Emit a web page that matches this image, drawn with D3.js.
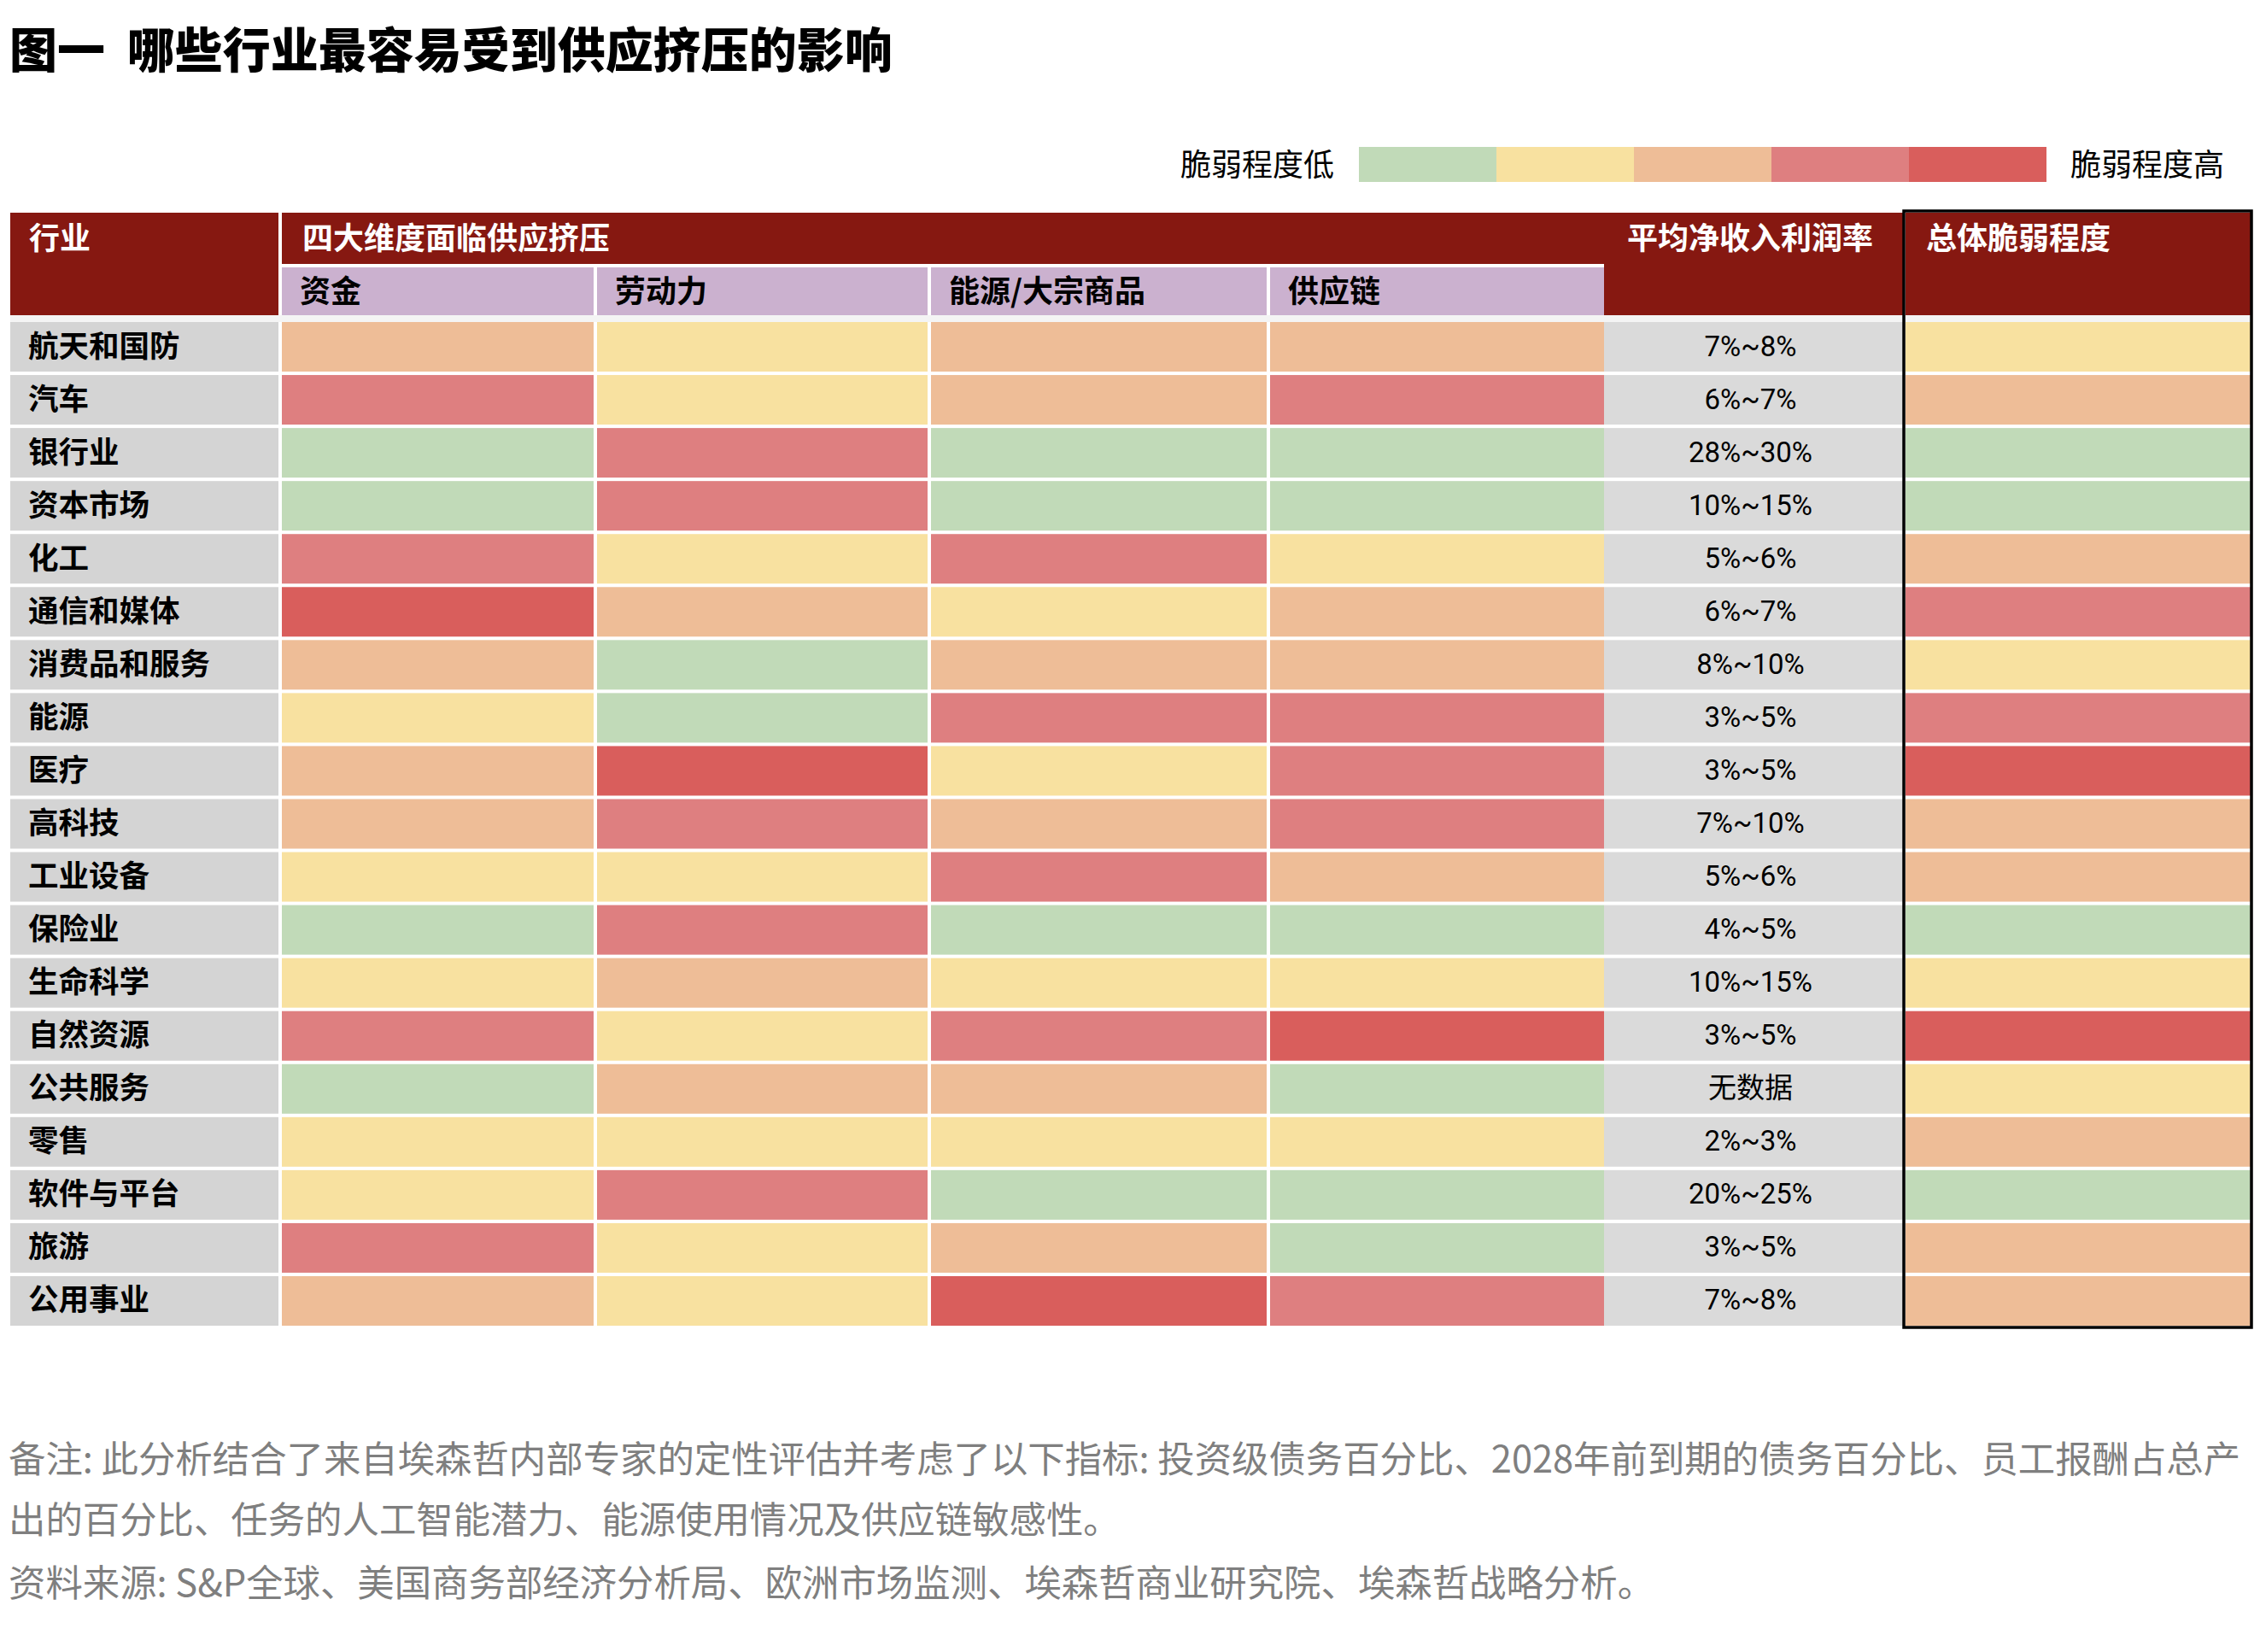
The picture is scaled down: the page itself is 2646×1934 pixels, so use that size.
<!DOCTYPE html>
<html lang="zh">

<head>
    <meta charset="UTF-8">
    <title>哪些行业最容易受到供应挤压的影响</title>
    <style>
        body {
            margin: 0;
            background: #fff;
        }

        text {
            font-family: "Noto Sans CJK SC", sans-serif;
        }

        .title {
            font-size: 56px;
            font-weight: 900;
            fill: #000;
            dominant-baseline: central;
        }

        .legend-label {
            font-size: 36px;
            fill: #000;
            dominant-baseline: central;
        }

        .head {
            fill: #861811;
        }

        .sub-head {
            fill: #cbb1cf;
        }

        .head-label {
            font-size: 36px;
            font-weight: 700;
            fill: #fff;
            dominant-baseline: central;
        }

        .sub-label {
            font-size: 36px;
            font-weight: 700;
            fill: #000;
            dominant-baseline: central;
        }

        .row-label {
            font-size: 35.5px;
            font-weight: 700;
            fill: #000;
            dominant-baseline: central;
        }

        .margin-label {
            font-family: Roboto, "Noto Sans CJK SC", sans-serif;
            font-size: 33px;
            fill: #000;
            text-anchor: middle;
            dominant-baseline: central;
        }

        .note {
            font-size: 43.4px;
            fill: #7f7f7f;
            dominant-baseline: central;
        }
    </style>
</head>

<body>
    <script src="https://d3js.org/d3.v7.min.js"></script>
    <script>
        // data
        const industries = ['航天和国防', '汽车', '银行业', '资本市场', '化工', '通信和媒体', '消费品和服务', '能源', '医疗',
            '高科技', '工业设备', '保险业', '生命科学', '自然资源', '公共服务', '零售', '软件与平台', '旅游', '公用事业'];
        const dimensions = ['资金', '劳动力', '能源/大宗商品', '供应链'];
        // vulnerability level 1 (low) .. 5 (high)
        const capital = [3, 4, 1, 1, 4, 5, 3, 2, 3, 3, 2, 1, 2, 4, 1, 2, 2, 4, 3];
        const labor = [2, 2, 4, 4, 2, 3, 1, 1, 5, 4, 2, 4, 3, 2, 3, 2, 4, 2, 2];
        const energy = [3, 3, 1, 1, 4, 2, 3, 4, 2, 3, 4, 1, 2, 4, 3, 2, 1, 3, 5];
        const supply = [3, 4, 1, 1, 2, 3, 3, 4, 4, 4, 3, 1, 2, 5, 1, 2, 1, 1, 4];
        const margins = ['7%~8%', '6%~7%', '28%~30%', '10%~15%', '5%~6%', '6%~7%', '8%~10%', '3%~5%', '3%~5%', '7%~10%',
            '5%~6%', '4%~5%', '10%~15%', '3%~5%', '无数据', '2%~3%', '20%~25%', '3%~5%', '7%~8%'];
        const overall = [2, 3, 1, 1, 3, 4, 2, 4, 5, 3, 3, 1, 2, 5, 2, 3, 1, 3, 3];
        const levels = [1, 2, 3, 4, 5];
        const legendLabels = ['脆弱程度低', '脆弱程度高'];
        const headers = ['行业', '四大维度面临供应挤压', '平均净收入利润率', '总体脆弱程度'];
        const title = '图一\u00a0\u00a0哪些行业最容易受到供应挤压的影响';
        const notes = [
            '备注: 此分析结合了来自埃森哲内部专家的定性评估并考虑了以下指标: 投资级债务百分比、2028年前到期的债务百分比、员工报酬占总产',
            '出的百分比、任务的人工智能潜力、能源使用情况及供应链敏感性。',
            '资料来源: S&P全球、美国商务部经济分析局、欧洲市场监测、埃森哲商业研究院、埃森哲战略分析。'
        ];

        const dimValues = [capital, labor, energy, supply];

        // layout
        const width = 2646;
        const height = 1934;
        const gap = 4;
        const headTop = 249;
        const headBottom = 369;
        const subTop = 313;
        const bodyTop = 377;
        const bodyBottom = 1552;
        const lift = 3; // central baseline sits a bit low for CJK glyphs

        const colLeft = d3.scaleOrdinal()
            .domain(['industry', ...dimensions, 'margin', 'overall'])
            .range([12, 330, 699, 1090, 1487, 1878, 2231]);
        const colRight = d3.scaleOrdinal()
            .domain(['industry', ...dimensions, 'margin', 'overall'])
            .range([326, 695, 1086, 1483, 1878, 2229, 2636]);
        const y = d3.scaleBand()
            .domain(industries)
            .range([bodyTop, bodyBottom])
            .paddingInner(0.065)
            .paddingOuter(0);
        const color = d3.scaleOrdinal()
            .domain(levels)
            .range(['#c1dab8', '#f8e1a0', '#eebd97', '#de7f80', '#d95e5c']);
        const legendX = d3.scaleBand()
            .domain(levels)
            .range([1591, 2396]);

        const svg = d3.select('body')
            .append('svg')
            .attr('width', width)
            .attr('height', height);

        // title
        svg.append('text')
            .attr('class', 'title')
            .attr('x', 11)
            .attr('y', 58 - 4)
            .text(title);

        // legend
        svg.selectAll('.legend-box')
            .data(levels)
            .enter().append('rect')
            .attr('class', 'legend-box')
            .attr('x', d => legendX(d))
            .attr('y', 172)
            .attr('width', legendX.bandwidth())
            .attr('height', 41)
            .attr('fill', d => color(d));

        svg.append('text')
            .attr('class', 'legend-label')
            .attr('x', 1562)
            .attr('y', 193 - lift)
            .style('text-anchor', 'end')
            .text(legendLabels[0]);

        svg.append('text')
            .attr('class', 'legend-label')
            .attr('x', 2424)
            .attr('y', 193 - lift)
            .text(legendLabels[1]);

        // header
        const head = svg.append('g');
        head.append('rect')
            .attr('class', 'head')
            .attr('x', colLeft('industry'))
            .attr('y', headTop)
            .attr('width', colRight('industry') - colLeft('industry'))
            .attr('height', headBottom - headTop);
        head.append('rect')
            .attr('class', 'head')
            .attr('x', colLeft(dimensions[0]))
            .attr('y', headTop)
            .attr('width', colRight('margin') - colLeft(dimensions[0]))
            .attr('height', subTop - gap - headTop);
        head.append('rect')
            .attr('class', 'head')
            .attr('x', colLeft('margin'))
            .attr('y', headTop)
            .attr('width', colRight('margin') - colLeft('margin'))
            .attr('height', headBottom - headTop);
        head.append('rect')
            .attr('class', 'head')
            .attr('x', colLeft('overall'))
            .attr('y', headTop)
            .attr('width', colRight('overall') - colLeft('overall'))
            .attr('height', headBottom - headTop);

        head.selectAll('.sub-head')
            .data(dimensions)
            .enter().append('rect')
            .attr('class', 'sub-head')
            .attr('x', d => colLeft(d))
            .attr('y', subTop)
            .attr('width', d => colRight(d) - colLeft(d))
            .attr('height', headBottom - subTop);

        head.selectAll('.sub-label')
            .data(dimensions)
            .enter().append('text')
            .attr('class', 'sub-label')
            .attr('x', d => colLeft(d) + 21)
            .attr('y', (subTop + headBottom) / 2 - lift)
            .text(d => d);

        const headLabelX = [colLeft('industry') + 22, colLeft(dimensions[0]) + 24, colLeft('margin') + 27, colLeft('overall') + 24];
        head.selectAll('.head-label')
            .data(headers)
            .enter().append('text')
            .attr('class', 'head-label')
            .attr('x', (d, i) => headLabelX[i])
            .attr('y', 279 - lift)
            .text(d => d);

        // light band under the header
        svg.append('rect')
            .attr('x', colLeft('industry'))
            .attr('y', headBottom)
            .attr('width', colRight('overall') - colLeft('industry'))
            .attr('height', bodyTop - headBottom)
            .attr('fill', '#f4f4f4');

        // rows
        const rows = svg.selectAll('.row')
            .data(industries)
            .enter().append('g')
            .attr('class', 'row')
            .attr('transform', d => `translate(0, ${y(d)})`);

        rows.append('rect')
            .attr('x', colLeft('industry'))
            .attr('width', colRight('industry') - colLeft('industry'))
            .attr('height', y.bandwidth())
            .attr('fill', '#d4d4d4');

        rows.append('text')
            .attr('class', 'row-label')
            .attr('x', colLeft('industry') + 21)
            .attr('y', y.bandwidth() / 2 - lift - 1)
            .text(d => d);

        dimensions.forEach((dim, j) => {
            rows.append('rect')
                .attr('x', colLeft(dim))
                .attr('width', colRight(dim) - colLeft(dim))
                .attr('height', y.bandwidth())
                .attr('fill', (d, i) => color(dimValues[j][i]));
        });

        rows.append('rect')
            .attr('x', colLeft('margin'))
            .attr('width', colRight('margin') - colLeft('margin'))
            .attr('height', y.bandwidth())
            .attr('fill', '#dadada');

        rows.append('text')
            .attr('class', 'margin-label')
            .attr('x', (colLeft('margin') + colRight('margin')) / 2 - 4)
            .attr('y', y.bandwidth() / 2 - 1)
            .text((d, i) => margins[i]);

        rows.append('rect')
            .attr('x', colLeft('overall'))
            .attr('width', colRight('overall') - colLeft('overall'))
            .attr('height', y.bandwidth())
            .attr('fill', (d, i) => color(overall[i]));

        // frame around the overall column
        svg.append('rect')
            .attr('x', colRight('margin'))
            .attr('y', headTop - 2)
            .attr('width', colRight('overall') - colRight('margin'))
            .attr('height', bodyBottom + 2 - headTop + 2)
            .attr('fill', 'none')
            .attr('stroke', '#000')
            .attr('stroke-width', 3.5);

        // notes
        svg.selectAll('.note')
            .data(notes)
            .enter().append('text')
            .attr('class', 'note')
            .attr('x', 10)
            .attr('y', (d, i) => [1708, 1779, 1853][i] - lift)
            .text(d => d);
    </script>
</body>

</html>
